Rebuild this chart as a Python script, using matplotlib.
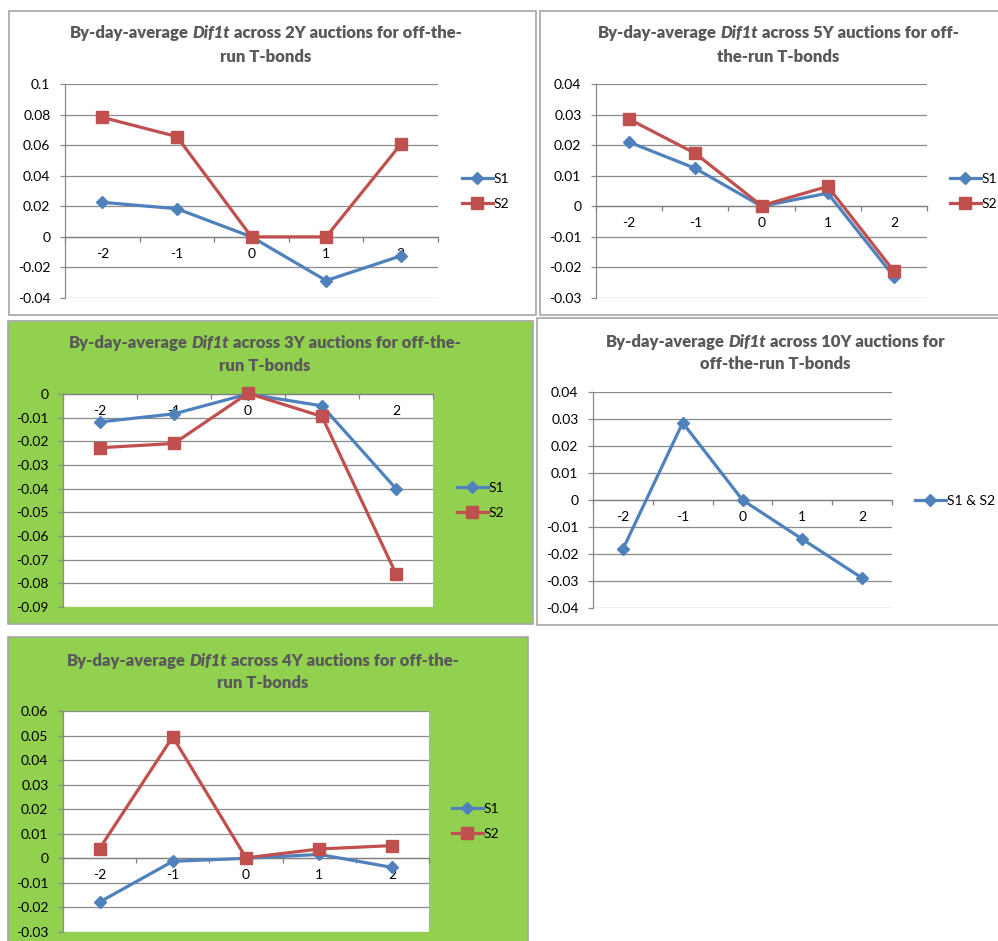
import matplotlib
matplotlib.use('Agg')
import matplotlib.pyplot as plt
from matplotlib.patches import Rectangle
from matplotlib.ticker import FixedLocator, FuncFormatter
import numpy as np

plt.rcParams['font.family'] = ['Lato', 'DejaVu Sans']

# event days around the auction
days = [-2, -1, 0, 1, 2]
day_labels = ['-2', '-1', '0', '1', '2']

# by-day averages of Dif1t, series S1 / S2
s1_2y = [0.0226, 0.0184, 0.0, -0.0286, -0.0125]
s2_2y = [0.0782, 0.0656, 0.0, 0.0, 0.0605]
s1_5y = [0.0210, 0.0124, 0.0, 0.0043, -0.0230]
s2_5y = [0.0285, 0.0173, 0.0002, 0.0065, -0.0212]
s1_3y = [-0.0118, -0.0084, 0.0, -0.0050, -0.0400]
s2_3y = [-0.0227, -0.0209, 0.0003, -0.0095, -0.0760]
s12_10y = [-0.0182, 0.0286, 0.0, -0.0145, -0.0289]
s1_4y = [-0.0178, -0.0012, 0.0, 0.0016, -0.0037]
s2_4y = [0.0040, 0.0495, 0.0002, 0.0038, 0.0052]

W, H = 998, 941
fig = plt.figure(figsize=(W / 100, H / 100), dpi=100)
fig.patch.set_facecolor('white')

BLUE = '#4F81BD'
RED = '#C0504D'
GRID = '#8A8A8A'
FRAME = '#A6A6A6'
GREEN = '#92D050'
TITLE_C = '#595959'
TICK_FS = 10
TITLE_FS = 12


def fx(x):
    return x / W


def fy(y):
    return 1 - y / H


def frame(x0, y0, x1, y1, face):
    fig.add_artist(Rectangle((fx(x0), fy(y1)), (x1 - x0) / W, (y1 - y0) / H,
                             transform=fig.transFigure, facecolor=face,
                             edgecolor=FRAME, linewidth=1.2, zorder=0))


def title_line(pieces, cx, cy):
    # pieces: list of (text, italic) joined with single spaces
    r = fig.canvas.get_renderer()
    kw = dict(fontsize=TITLE_FS, fontweight='heavy', color=TITLE_C)

    def width(s, it):
        t = fig.text(0, 0, s, fontstyle='italic' if it else 'normal', **kw)
        w = t.get_window_extent(r).width
        t.remove()
        return w

    gap = width('x x', False) - width('xx', False)
    ws = [width(s, it) for s, it in pieces]
    x = cx - (sum(ws) + gap * (len(ws) - 1)) / 2
    for (s, it), w in zip(pieces, ws):
        fig.text(fx(x), fy(cy), s, ha='left', va='center',
                 fontstyle='italic' if it else 'normal', **kw)
        x += w + gap


def fmt(v, pos):
    if abs(v) < 1e-9:
        return '0'
    return f'{round(v, 3):g}'


def panel(box, ylim, step, series, legend_xy):
    x0, y0, x1, y1 = box
    ax = fig.add_axes([fx(x0), fy(y1), (x1 - x0) / W, (y1 - y0) / H])
    ax.set_facecolor('white')
    ax.set_xlim(-2.5, 2.5)
    ax.set_ylim(*ylim)
    yt = np.round(np.arange(ylim[0], ylim[1] + step / 2, step), 4)
    ax.yaxis.set_major_locator(FixedLocator(yt))
    ax.yaxis.set_major_formatter(FuncFormatter(fmt))
    ax.grid(axis='y', color=GRID, linewidth=0.9)
    ax.set_axisbelow(True)
    for s in ['top', 'right']:
        ax.spines[s].set_visible(False)
    ax.spines['left'].set_color(GRID)
    ax.spines['left'].set_linewidth(0.9)
    ax.spines['bottom'].set_position(('data', 0))
    ax.spines['bottom'].set_color('#7F7F7F')
    ax.spines['bottom'].set_linewidth(0.9)
    ax.tick_params(axis='y', direction='out', length=3.5, width=0.9,
                   color=GRID, pad=7, labelsize=TICK_FS, labelcolor='black')
    ax.xaxis.set_major_locator(FixedLocator(np.arange(-2.5, 2.6, 1.0)))
    ax.xaxis.set_major_formatter(FuncFormatter(lambda v, p: ''))
    ax.xaxis.set_minor_locator(FixedLocator(days))
    ax.set_xticklabels(day_labels, minor=True)
    ax.tick_params(axis='x', which='major', direction='out', length=3.5,
                   width=0.9, color='#7F7F7F')
    ax.tick_params(axis='x', which='minor', length=0, pad=8,
                   labelsize=TICK_FS, labelcolor='black')

    handles = []
    for vals, label, color, marker, ms in series:
        h, = ax.plot(days, vals, color=color, linewidth=2.3, marker=marker,
                     markersize=ms, label=label, clip_on=False, zorder=3)
        handles.append(h)
    fig.legend(handles=handles, loc='center left',
               bbox_to_anchor=(fx(legend_xy[0]), fy(legend_xy[1])),
               bbox_transform=fig.transFigure, frameon=False,
               fontsize=TICK_FS, handlelength=2.2, handletextpad=0.1,
               labelspacing=0.95, borderpad=0, borderaxespad=0)
    return ax


def two(s1, s2):
    return [(s1, 'S1', BLUE, 'D', 6.5), (s2, 'S2', RED, 's', 8)]


# chart frames
frame(9, 11, 536, 315, 'white')
frame(540, 11, 1010, 315, 'white')
frame(8, 321, 533, 624, GREEN)
frame(537, 318, 1010, 625, 'white')
frame(8, 637, 528, 960, GREEN)

# 2Y
panel((65, 84, 438, 298), (-0.04, 0.1), 0.02, two(s1_2y, s2_2y), (462, 191.5))
title_line([('By-day-average', False), ('Dif1t', True),
            ('across 2Y auctions for off-the-', False)], 266, 33)
title_line([('run T-bonds', False)], 266, 57)

# 5Y
panel((596, 84, 927, 298), (-0.03, 0.04), 0.01, two(s1_5y, s2_5y), (950, 191.5))
title_line([('By-day-average', False), ('Dif1t', True),
            ('across 5Y auctions for off-', False)], 778, 33)
title_line([('the-run T-bonds', False)], 778, 57)

# 3Y
panel((63, 394, 433, 607), (-0.09, 0.0), 0.01, two(s1_3y, s2_3y), (457, 500.5))
title_line([('By-day-average', False), ('Dif1t', True),
            ('across 3Y auctions for off-the-', False)], 264.5, 343)
title_line([('run T-bonds', False)], 264.5, 366)

# 10Y
panel((593, 392, 892, 608), (-0.04, 0.04), 0.01,
      [(s12_10y, 'S1 & S2', BLUE, 'D', 6.5)], (915, 501))
title_line([('By-day-average', False), ('Dif1t', True),
            ('across 10Y auctions for', False)], 775.5, 342)
title_line([('off-the-run T-bonds', False)], 775.5, 364)

# 4Y
panel((63, 711, 429, 932), (-0.03, 0.06), 0.01, two(s1_4y, s2_4y), (452, 821.5))
title_line([('By-day-average', False), ('Dif1t', True),
            ('across 4Y auctions for off-the-', False)], 262.5, 661)
title_line([('run T-bonds', False)], 262.5, 683)

fig.savefig('out.png', dpi=100)
